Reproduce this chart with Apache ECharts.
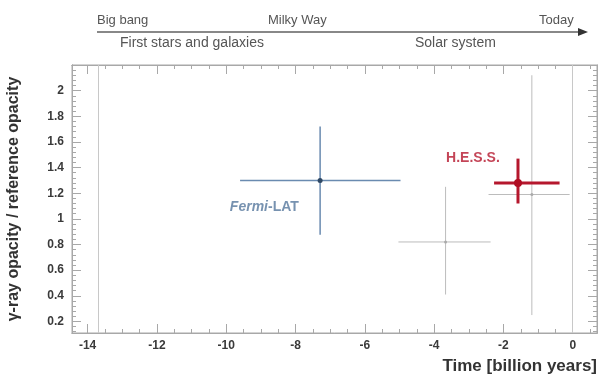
<!DOCTYPE html>
<html>
<head>
<meta charset="utf-8">
<script src="https://cdn.jsdelivr.net/npm/echarts@6/dist/echarts.min.js"></script>
<style>
  html, body { margin: 0; padding: 0; background: #fff; }
  #chart { width: 600px; height: 379px; }
</style>
</head>
<body>
<div id="chart"></div>
<script>
// axis ticks
const xTicks = [-14, -12, -10, -8, -6, -4, -2, 0];
const yTicks = [0.2, 0.4, 0.6, 0.8, 1, 1.2, 1.4, 1.6, 1.8, 2];

// measurements: [time, ratio, timeLo, timeHi, ratioLo, ratioHi]
const fermi = [[-7.29, 1.30, -9.6, -4.97, 0.876, 1.72]];
const hess = [[-1.58, 1.28, -2.27, -0.38, 1.12, 1.47]];
const others = [
  [-3.67, 0.82, -5.03, -2.37, 0.41, 1.25],
  [-1.18, 1.19, -2.43, -0.09, 0.25, 2.12]
];

// reference epochs (big bang, today)
const epochLines = [-13.7, 0];

// label anchors in data space
const fermiLabel = [-8.9, 1.09];
const hessLabel = [-2.88, 1.47];

const xMinor = [];
for (let v = -14.5; v <= 0.7; v += 0.5) xMinor.push(+v.toFixed(2));
const yMinor = [];
for (let v = 0.12; v <= 2.2; v += 0.04) yMinor.push(+v.toFixed(2));

const frameColor = "#a8a8a8";
const FONT = "Liberation Sans, Arial, sans-serif";
const tickFont = { color: "#3a3a3a", fontSize: 12, fontWeight: "bold", fontFamily: FONT };

function xAxisBase(extra) {
  return Object.assign({
    type: "value",
    min: -14.45,
    max: 0.7,
    splitLine: { show: false },
    axisLine: { show: true, onZero: false, lineStyle: { color: frameColor, width: 1 } },
  }, extra);
}

function yAxisBase(extra) {
  return Object.assign({
    type: "value",
    min: 0.11,
    max: 2.2,
    splitLine: { show: false },
    axisLine: { show: true, onZero: false, lineStyle: { color: frameColor, width: 1 } },
  }, extra);
}

function errorBars(color, width, dot) {
  return function (params, api) {
    const c = api.coord([api.value(0), api.value(1)]);
    const l = api.coord([api.value(2), api.value(1)]);
    const r = api.coord([api.value(3), api.value(1)]);
    const b = api.coord([api.value(0), api.value(4)]);
    const t = api.coord([api.value(0), api.value(5)]);
    const style = { stroke: color, lineWidth: width };
    return {
      type: "group",
      children: [
        { type: "line", shape: { x1: l[0], y1: l[1], x2: r[0], y2: r[1] }, style },
        { type: "line", shape: { x1: b[0], y1: b[1], x2: t[0], y2: t[1] }, style },
        { type: "circle", shape: { cx: c[0], cy: c[1], r: dot.r }, style: { fill: dot.color } },
      ],
    };
  };
}

const chart = echarts.init(document.getElementById("chart"), null, { renderer: "canvas" });
chart.setOption({
  animation: false,
  backgroundColor: "#ffffff",
  grid: {
    left: 72, right: 3, top: 65, bottom: 46,
    outerBoundsMode: "none",
    show: true, borderColor: frameColor, borderWidth: 1,
  },
  xAxis: [
    xAxisBase({
      position: "bottom",
      axisTick: { show: true, inside: true, length: 9, customValues: xTicks, lineStyle: { color: frameColor } },
      axisLabel: { show: true, customValues: xTicks, margin: 7, ...tickFont },
      name: "Time [billion years]",
      nameLocation: "end",
      nameGap: 0,
      nameTextStyle: {
        color: "#333", fontSize: 17, fontWeight: "bold", fontFamily: FONT,
        align: "right", verticalAlign: "top", padding: [25, 0, 0, 0],
      },
    }),
    xAxisBase({
      position: "bottom",
      axisTick: { show: true, inside: true, length: 4, customValues: xMinor, lineStyle: { color: frameColor } },
      axisLabel: { show: false },
    }),
    xAxisBase({
      position: "top",
      axisTick: { show: true, inside: true, length: 9, customValues: xTicks, lineStyle: { color: frameColor } },
      axisLabel: { show: false },
    }),
    xAxisBase({
      position: "top",
      axisTick: { show: true, inside: true, length: 4, customValues: xMinor, lineStyle: { color: frameColor } },
      axisLabel: { show: false },
    }),
  ],
  yAxis: [
    yAxisBase({
      position: "left",
      axisTick: { show: true, inside: true, length: 9, customValues: yTicks, lineStyle: { color: frameColor } },
      axisLabel: { show: true, customValues: yTicks, margin: 8, ...tickFont },
      name: "\u03b3-ray opacity / reference opacity",
      nameLocation: "middle",
      nameGap: 50,
      nameRotate: 90,
      nameTextStyle: { color: "#333", fontSize: 16, fontWeight: "bold", fontFamily: FONT },
    }),
    yAxisBase({
      position: "left",
      axisTick: { show: true, inside: true, length: 4, customValues: yMinor, lineStyle: { color: frameColor } },
      axisLabel: { show: false },
    }),
    yAxisBase({
      position: "right",
      axisTick: { show: true, inside: true, length: 9, customValues: yTicks, lineStyle: { color: frameColor } },
      axisLabel: { show: false },
    }),
    yAxisBase({
      position: "right",
      axisTick: { show: true, inside: true, length: 4, customValues: yMinor, lineStyle: { color: frameColor } },
      axisLabel: { show: false },
    }),
  ],
  graphic: [
    { type: "line", shape: { x1: 97, y1: 32, x2: 580, y2: 32 }, style: { stroke: "#888", lineWidth: 2 } },
    { type: "polygon", shape: { points: [[578, 28], [588, 32], [578, 36]] }, style: { fill: "#333" } },
    { type: "text", left: 97, top: 14, style: { text: "Big bang", fill: "#555", font: "13px " + FONT } },
    { type: "text", left: 268, top: 14, style: { text: "Milky Way", fill: "#555", font: "13px " + FONT } },
    { type: "text", left: 539, top: 14, style: { text: "Today", fill: "#555", font: "13px " + FONT } },
    { type: "text", left: 120, top: 36, style: { text: "First stars and galaxies", fill: "#555", font: "14px " + FONT } },
    { type: "text", left: 415, top: 36, style: { text: "Solar system", fill: "#555", font: "14px " + FONT } },
  ],
  series: [
    {
      type: "custom",
      name: "other",
      renderItem: errorBars("#bcbcbc", 1, { r: 1.5, color: "#aaaaaa" }),
      data: others,
      encode: { x: 0, y: 1 },
      markLine: {
        silent: true,
        symbol: "none",
        label: { show: false },
        lineStyle: { color: "#c8c8c8", width: 1, type: "solid" },
        data: epochLines.map((v) => ({ xAxis: v })),
      },
      z: 2,
    },
    {
      type: "custom",
      name: "Fermi-LAT",
      renderItem: errorBars("#6a8bb0", 1.5, { r: 2.5, color: "#2f4864" }),
      data: fermi,
      encode: { x: 0, y: 1 },
      z: 3,
    },
    {
      type: "custom",
      name: "H.E.S.S.",
      renderItem: errorBars("#b5172d", 3, { r: 4, color: "#b00c22" }),
      data: hess,
      encode: { x: 0, y: 1 },
      z: 4,
    },
    {
      type: "scatter",
      symbolSize: 0,
      silent: true,
      data: [
        { value: fermiLabel, label: { show: true, position: "inside", formatter: "{i|Fermi}{n|-LAT}", rich: {
          i: { color: "#55779c", fontSize: 14, fontWeight: "bold", fontStyle: "italic", fontFamily: FONT },
          n: { color: "#55779c", fontSize: 14, fontWeight: "bold", fontFamily: FONT },
        } } },
        { value: hessLabel, label: { show: true, position: "inside", formatter: "H.E.S.S.",
          color: "#b5172d", fontSize: 14, fontWeight: "bold", fontFamily: FONT } },
      ],
      z: 5,
    },
  ],
});
</script>
</body>
</html>
